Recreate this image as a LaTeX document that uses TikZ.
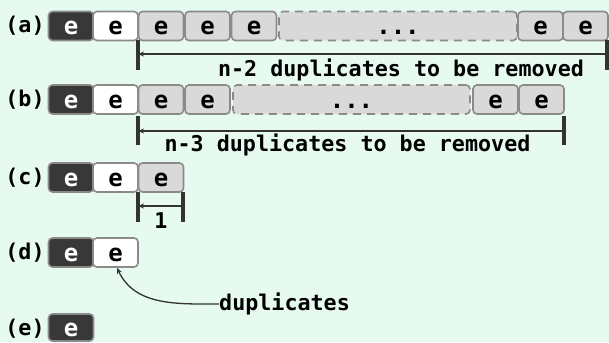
\documentclass[tikz,border=0pt]{standalone}
\usepackage{fontspec}
\setmonofont{DejaVu Sans Mono}
\usetikzlibrary{arrows.meta}
\definecolor{bg}{HTML}{E6FAF0}
\definecolor{celldark}{HTML}{383838}
\definecolor{cellgray}{HTML}{D9D9D9}
\definecolor{cellborder}{HTML}{8A8A8A}
\definecolor{ink}{HTML}{333333}
\newcommand{\monotxt}{\ttfamily\bfseries\fontsize{21.7}{24}\selectfont}
\newcommand{\celltxt}{\ttfamily\bfseries\fontsize{24}{26}\selectfont}
\begin{document}
\begin{tikzpicture}[x=1pt,y=-1pt,
  cell/.style={draw=cellborder, line width=1.6pt, rounded corners=4pt,
    minimum width=45pt, minimum height=29pt, inner sep=0pt, font=\celltxt,
    text height=18pt, text depth=0pt},
  darkcell/.style={cell, fill=celldark, text=white},
  whitecell/.style={cell, fill=white},
  graycell/.style={cell, fill=cellgray},
  gapcell/.style={cell, fill=cellgray, dash pattern=on 8pt off 6pt},
  rowlbl/.style={font=\monotxt, inner sep=0pt, anchor=base},
  caption/.style={font=\monotxt, inner sep=0pt},
  barline/.style={draw=ink, line width=3.5pt},
  span/.style={draw=ink, line width=1.3pt, {Stealth[length=6pt,width=5pt]}-},
]
\fill[bg] (0,0) rectangle (609,342);
\useasboundingbox (0,0) rectangle (609,342);

% ---- row (a)
\node[rowlbl] (la) at (25,33) {(a)};
\node[graycell] (a3) at (161,26) {e};
\node[graycell] (a4) at (207.5,26) {e};
\node[graycell] (a5) at (254,26) {e};
\node[gapcell, minimum width=238pt] (a6) at (398,26) {...};
\node[graycell] (a7) at (540.5,26) {e};
\node[graycell] (a8) at (585.5,26) {e};
\node[darkcell] (a1) at (71,26) {e};
\node[whitecell] (a2) at (115.5,26) {e};
\coordinate (aLt) at (138,40); \coordinate (aLb) at (138,70);
\coordinate (aRt) at (607,40); \coordinate (aRb) at (607,70);
\coordinate (aL) at (138,54); \coordinate (aR) at (607,54);
\draw[barline] (aLt) -- (aLb);
\draw[barline] (aRt) -- (aRb);
\draw[span] (aL) -- (aR);
\node[caption] (ta) at (401,70) {n-2 duplicates to be removed};

% ---- row (b)
\node[rowlbl] (lb) at (25,106.5) {(b)};
\node[graycell] (b3) at (161,99.5) {e};
\node[graycell] (b4) at (207.5,99.5) {e};
\node[gapcell, minimum width=237pt] (b5) at (351.5,99.5) {...};
\node[graycell] (b6) at (495.5,99.5) {e};
\node[graycell] (b7) at (541.5,99.5) {e};
\node[darkcell] (b1) at (71,99.5) {e};
\node[whitecell] (b2) at (115.5,99.5) {e};
\coordinate (bLt) at (138,116); \coordinate (bLb) at (138,145);
\coordinate (bRt) at (564,116); \coordinate (bRb) at (564,145);
\coordinate (bL) at (138,131); \coordinate (bR) at (564,131);
\draw[barline] (bLt) -- (bLb);
\draw[barline] (bRt) -- (bRb);
\draw[span] (bL) -- (bR);
\node[caption] (tb) at (347.5,145) {n-3 duplicates to be removed};

% ---- row (c)
\node[rowlbl] (lc) at (25,184.5) {(c)};
\node[graycell] (c3) at (161,177.5) {e};
\node[darkcell] (c1) at (71,177.5) {e};
\node[whitecell] (c2) at (115.5,177.5) {e};
\coordinate (cLt) at (138,192); \coordinate (cLb) at (138,222);
\coordinate (cRt) at (183,192); \coordinate (cRb) at (183,222);
\coordinate (cL) at (138,206); \coordinate (cR) at (183,206);
\draw[barline] (cLt) -- (cLb);
\draw[barline] (cRt) -- (cRb);
\draw[span] (cL) -- (cR);
\node[caption] (tc) at (161,221) {1};

% ---- row (d)
\node[rowlbl] (ld) at (25,259.5) {(d)};
\node[darkcell] (d1) at (71,252.5) {e};
\node[whitecell] (d2) at (115.5,252.5) {e};
\node[caption, anchor=west] (dup) at (219,304) {duplicates};
\draw[draw=ink, line width=1.3pt, -{Stealth[length=6pt,width=5pt]}]
  (dup.west) to[out=180, in=-65] ([xshift=1.5pt]d2.south);

% ---- row (e)
\node[rowlbl] (le) at (25,335) {(e)};
\node[darkcell, minimum height=27pt, text height=17pt] (e1) at (71,327.5) {e};
\end{tikzpicture}
\end{document}
